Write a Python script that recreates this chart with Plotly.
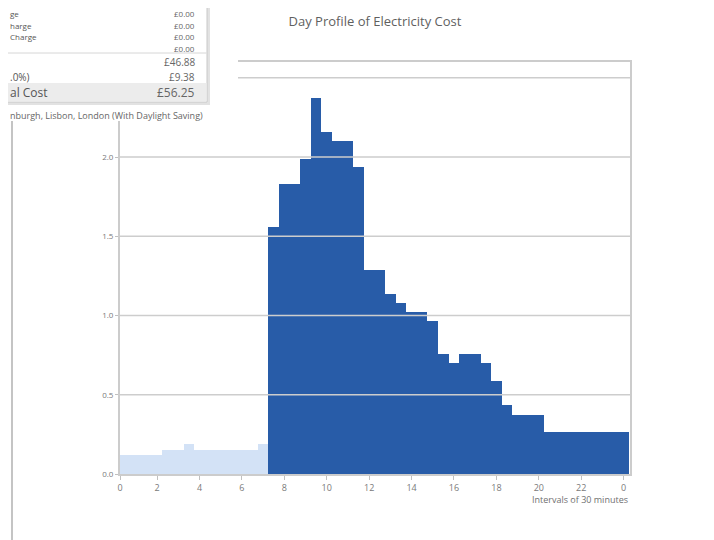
import plotly.graph_objects as go

# ---------------- data ----------------
# 48 half-hour intervals; x = end hour of each interval (0.5 .. 24.0)
interval_hours = [(i + 1) / 2 for i in range(48)]

# cost per half-hour interval (first 14 intervals: night rate, rest: day rate)
night_cost = [0.12, 0.12, 0.12, 0.12, 0.15, 0.15, 0.19,
              0.15, 0.15, 0.15, 0.15, 0.15, 0.15, 0.19]
day_cost = [1.56, 1.83, 1.83, 1.99, 2.37, 2.16, 2.10, 2.10, 1.94,
            1.29, 1.29, 1.135, 1.08, 1.02, 1.02, 0.965, 0.755, 0.70,
            0.755, 0.755, 0.70, 0.59, 0.435, 0.375, 0.375, 0.375,
            0.265, 0.265, 0.265, 0.265, 0.265, 0.265, 0.265, 0.265]

x_tick_vals = [0.25, 2, 4, 6, 8, 10, 12, 14, 16, 18, 20, 22, 24]
x_tick_text = ["0", "2", "4", "6", "8", "10", "12", "14", "16", "18", "20", "22", "0"]
y_tick_vals = [0.0, 0.5, 1.0, 1.5, 2.0, 2.5]

panel_labels = ["ge", "harge", "Charge", "", "", ".0%)"]
panel_values = ["£0.00", "£0.00", "£0.00", "£0.00", "£46.88", "£9.38"]
total_label = "al Cost"
total_value = "£56.25"
caption = "nburgh, Lisbon, London (With Daylight Saving)"
title = "Day Profile of Electricity Cost"

# ---------------- figure ----------------
OFF = 8  # default page body margin
W, H = 714 - OFF, 540 - OFF
# plot area in page pixels
L, R, T, B = 120, 630, 62, 474
FONT = "Open Sans"


def px(x):
    return (x - L) / (R - L)


def py(y):
    return (B - y) / (B - T)


fig = go.Figure()
fig.add_trace(go.Bar(x=interval_hours[:len(night_cost)], y=night_cost, width=0.5,
                     marker=dict(color="#D3E2F6", line=dict(width=0)),
                     hoverinfo="x+y", showlegend=False))
fig.add_trace(go.Bar(x=interval_hours[len(night_cost):], y=day_cost, width=0.5,
                     marker=dict(color="#285CA8", line=dict(width=0)),
                     hoverinfo="x+y", showlegend=False))

shapes = []
# gridlines drawn above the bars
for v in y_tick_vals[1:]:
    shapes.append(dict(type="line", xref="paper", yref="y", x0=0, x1=1, y0=v, y1=v,
                       line=dict(color="#cdcdcd", width=1.5), layer="above"))
# white cover behind the overlay panel
shapes.append(dict(type="rect", xref="paper", yref="paper",
                   x0=px(-5), x1=px(238), y0=py(121), y1=py(-5),
                   fillcolor="white", line=dict(width=0), layer="above"))
# left vertical separator line
shapes.append(dict(type="line", xref="paper", yref="paper",
                   x0=px(12), x1=px(12), y0=py(121), y1=py(545),
                   line=dict(color="#c4c4c4", width=2), layer="above"))
# panel shadow
shapes.append(dict(type="rect", xref="paper", yref="paper",
                   x0=px(-5), x1=px(210), y0=py(105), y1=py(-5),
                   fillcolor="#e2e2e2", line=dict(width=0), layer="above"))
# panel
shapes.append(dict(type="rect", xref="paper", yref="paper",
                   x0=px(-5), x1=px(207), y0=py(102), y1=py(-5),
                   fillcolor="white", line=dict(color="#c8c8c8", width=1), layer="above"))
# total band
shapes.append(dict(type="rect", xref="paper", yref="paper",
                   x0=px(-5), x1=px(206.5), y0=py(101.5), y1=py(83),
                   fillcolor="#ececec", line=dict(width=0), layer="above"))
# separator in panel
shapes.append(dict(type="line", xref="paper", yref="paper",
                   x0=px(-5), x1=px(206.5), y0=py(53), y1=py(53),
                   line=dict(color="#d6d6d6", width=1), layer="above"))

annotations = []
row_y = [13.7, 25.2, 36.7, 48.0, 61.5, 76.5]
row_size = [8, 8, 8, 8, 10, 10]
LX = OFF + 0.5  # leftmost visible page pixel
for lab, val, yy, fs in zip(panel_labels, panel_values, row_y, row_size):
    if lab:
        annotations.append(dict(text=lab, xref="paper", yref="paper", x=px(LX), y=py(yy),
                                xanchor="left", yanchor="middle", showarrow=False,
                                borderpad=0,
                                font=dict(family=FONT, size=fs, color="#555555")))
    annotations.append(dict(text=val, xref="paper", yref="paper", x=px(196), y=py(yy),
                            xanchor="right", yanchor="middle", showarrow=False,
                            borderpad=0,
                            font=dict(family=FONT, size=fs, color="#666666")))
annotations.append(dict(text=total_label, xref="paper", yref="paper", x=px(LX), y=py(93),
                        xanchor="left", yanchor="middle", showarrow=False, borderpad=0,
                        font=dict(family=FONT, size=12, color="#555555")))
annotations.append(dict(text=total_value, xref="paper", yref="paper", x=px(196), y=py(93),
                        xanchor="right", yanchor="middle", showarrow=False, borderpad=0,
                        font=dict(family=FONT, size=12, color="#666666")))
annotations.append(dict(text=caption, xref="paper", yref="paper", x=px(LX), y=py(115),
                        xanchor="left", yanchor="middle", showarrow=False, borderpad=0,
                        font=dict(family=FONT, size=9, color="#666666")))
annotations.append(dict(text="Intervals of 30 minutes", xref="paper", yref="paper",
                        x=px(629), y=py(499), xanchor="right", yanchor="middle",
                        showarrow=False, borderpad=0,
                        font=dict(family=FONT, size=9, color="#707070")))

fig.update_layout(
    width=W, height=H,
    margin=dict(l=L - OFF, r=714 - R, t=T - OFF, b=540 - B, pad=0),
    paper_bgcolor="white", plot_bgcolor="white",
    bargap=0, barmode="overlay",
    title=dict(text=title, x=0.5, xref="paper", y=1 - (21 - OFF) / H, yref="container",
               xanchor="center", yanchor="middle",
               font=dict(family=FONT, size=13, color="#5f5f5f")),
    shapes=shapes, annotations=annotations,
    xaxis=dict(range=[0.25, 24.3], tickvals=x_tick_vals, ticktext=x_tick_text,
               showgrid=False, zeroline=False, showline=True, mirror=True,
               linecolor="#cccccc", linewidth=2, ticks="outside", ticklen=4,
               tickcolor="#c0c0c0", tickfont=dict(family=FONT, size=9, color="#7a7a7a")),
    yaxis=dict(range=[0, 2.6], tickvals=y_tick_vals, tickformat=".1f",
               showgrid=False, zeroline=False, showline=True, mirror=True,
               linecolor="#cccccc", linewidth=2, ticks="outside", ticklen=3,
               tickcolor="#c0c0c0", tickfont=dict(family=FONT, size=8, color="#7a7a7a")),
    font=dict(family=FONT),
)

fig.write_html("out.html")
